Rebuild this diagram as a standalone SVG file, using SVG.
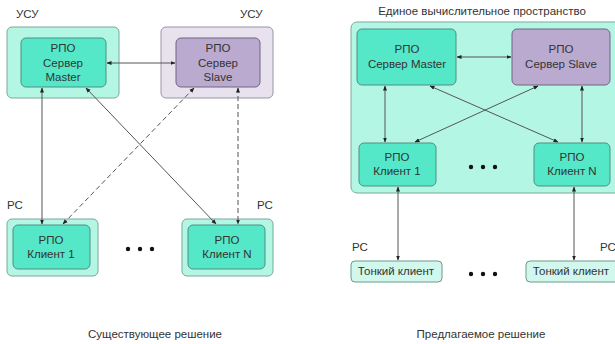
<svg xmlns="http://www.w3.org/2000/svg" width="615" height="344" viewBox="0 0 615 344">
<style>
text{font-family:"Liberation Sans",Arial,sans-serif;font-size:11.5px;fill:#333}
.c{text-anchor:middle}
.oT{fill:#b4f6e4;stroke:#7aa89c;stroke-width:1}
.oP{fill:#e8e2ef;stroke:#9a94a2;stroke-width:1}
.iT{fill:#55e8c8;stroke:#4f8f80;stroke-width:1}
.iP{fill:#baaacf;stroke:#6f6580;stroke-width:1}
.thin{fill:#d2f8ee;stroke:#6a9a8e;stroke-width:1}
.ln{stroke:#555;stroke-width:1;fill:none;marker-start:url(#a);marker-end:url(#a)}
.d{stroke-dasharray:5,3}
.dot{fill:#111}
</style>
<defs>
<marker id="a" viewBox="0 0 10 10" refX="9" refY="5" markerWidth="5" markerHeight="5" orient="auto-start-reverse" markerUnits="userSpaceOnUse"><path d="M0,1 L10,5 L0,9 z" fill="#222"/></marker>
</defs>
<rect width="615" height="344" fill="#fff"/>

<!-- Left: existing solution -->
<text x="16" y="18">УСУ</text>
<text x="240" y="18">УСУ</text>
<g id="l-master">
<rect class="oT" x="7" y="27" width="112" height="71" rx="5"/>
<rect class="iT" x="21" y="38" width="85" height="49" rx="5"/>
<text class="c" x="63" y="52">РПО</text>
<text class="c" x="63" y="67">Сервер</text>
<text class="c" x="63" y="81">Master</text>
</g>
<g id="l-slave">
<rect class="oP" x="161" y="27" width="112" height="71" rx="5"/>
<rect class="iP" x="176" y="38" width="84" height="49" rx="5"/>
<text class="c" x="218" y="52">РПО</text>
<text class="c" x="218" y="67">Сервер</text>
<text class="c" x="218" y="81">Slave</text>
</g>
<text x="7" y="209">РС</text>
<text x="257" y="209">РС</text>
<g id="l-client1">
<rect class="oT" x="7" y="219" width="91" height="57" rx="5"/>
<rect class="iT" x="13" y="225" width="77" height="44" rx="5"/>
<text class="c" x="51" y="244">РПО</text>
<text class="c" x="51" y="258">Клиент 1</text>
</g>
<g id="l-clientN">
<rect class="oT" x="182" y="219" width="91" height="57" rx="5"/>
<rect class="iT" x="188" y="225" width="77" height="44" rx="5"/>
<text class="c" x="227" y="244">РПО</text>
<text class="c" x="227" y="258">Клиент N</text>
</g>
<g id="l-dots">
<circle class="dot" cx="128" cy="249" r="2.2"/>
<circle class="dot" cx="140" cy="249" r="2.2"/>
<circle class="dot" cx="152" cy="249" r="2.2"/>
</g>
<text class="c" x="155" y="338">Существующее решение</text>

<!-- Right: proposed solution -->
<text class="c" x="482" y="15">Единое вычислительное пространство</text>
<g id="r-space">
<rect class="oT" x="351" y="22" width="270" height="171" rx="6"/>
</g>
<g id="r-master">
<rect class="iT" x="357" y="29" width="99" height="56" rx="5"/>
<text class="c" x="407" y="53">РПО</text>
<text class="c" x="407" y="68">Сервер Master</text>
</g>
<g id="r-slave">
<rect class="iP" x="512" y="29" width="98" height="56" rx="5"/>
<text class="c" x="561" y="53">РПО</text>
<text class="c" x="561" y="68">Сервер Slave</text>
</g>
<g id="r-client1">
<rect class="iT" x="359" y="143" width="77" height="43" rx="5"/>
<text class="c" x="397" y="161">РПО</text>
<text class="c" x="397" y="175">Клиент 1</text>
</g>
<g id="r-clientN">
<rect class="iT" x="534" y="143" width="76" height="43" rx="5"/>
<text class="c" x="572" y="161">РПО</text>
<text class="c" x="572" y="175">Клиент N</text>
</g>
<g id="r-dots1">
<circle class="dot" cx="471" cy="167" r="2.2"/>
<circle class="dot" cx="483" cy="167" r="2.2"/>
<circle class="dot" cx="495" cy="167" r="2.2"/>
</g>
<text x="352" y="251">РС</text>
<text x="600" y="251">РС</text>
<g id="r-thin1">
<rect class="thin" x="351" y="261" width="91" height="21" rx="4"/>
<text class="c" x="396" y="275">Тонкий клиент</text>
</g>
<g id="r-thinN">
<rect class="thin" x="526" y="261" width="94" height="21" rx="4"/>
<text class="c" x="571" y="275">Тонкий клиент</text>
</g>
<g id="r-dots2">
<circle class="dot" cx="471" cy="274" r="2.2"/>
<circle class="dot" cx="483" cy="274" r="2.2"/>
<circle class="dot" cx="495" cy="274" r="2.2"/>
</g>
<text class="c" x="481" y="338">Предлагаемое решение</text>

<g id="connectors">
<line class="ln" x1="107" y1="63" x2="175" y2="63"/>
<line class="ln" x1="42" y1="88" x2="42" y2="224"/>
<line class="ln d" x1="194" y1="88" x2="63" y2="224"/>
<line class="ln" x1="86" y1="88" x2="216" y2="224"/>
<line class="ln d" x1="238" y1="88" x2="238" y2="224"/>
<line class="ln" x1="457" y1="57" x2="511" y2="57"/>
<line class="ln" x1="385" y1="86" x2="385" y2="142"/>
<line class="ln" x1="582" y1="86" x2="582" y2="142"/>
<line class="ln" x1="430" y1="86" x2="558" y2="142"/>
<line class="ln" x1="538" y1="86" x2="415" y2="142"/>
<line class="ln" x1="398" y1="187" x2="398" y2="260"/>
<line class="ln" x1="574" y1="187" x2="574" y2="260"/>
</g>
</svg>
